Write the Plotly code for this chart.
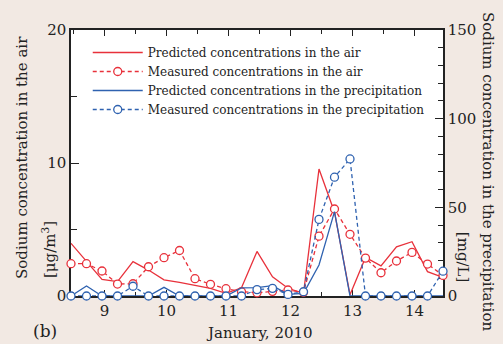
import plotly.graph_objects as go

times = [8.458, 8.708, 8.958, 9.208, 9.458, 9.708, 9.958, 10.208, 10.458, 10.708,
         10.958, 11.208, 11.458, 11.708, 11.958, 12.208, 12.458, 12.708, 12.958,
         13.208, 13.458, 13.708, 13.958, 14.208, 14.458]

air_pred = [3.96, 2.6, 1.25, 1.08, 2.58, 1.95, 1.22, 1.03, 0.83, 0.58, 0.2, 0.62,
            3.35, 1.45, 0.58, 0.2, 9.55, 6.3, 0.1, 2.9, 2.26, 3.7, 4.08, 1.83, 1.4]
air_meas = [2.43, 2.43, 1.88, 0.9, 0.92, 2.2, 2.88, 3.42, 1.3, 0.88, 0.55, 0.32,
            0.24, 0.35, 0.45, 0.28, 4.5, 6.54, 4.64, 2.85, 1.75, 2.63, 3.28, 2.4, 1.55]
prec_pred = [0, 5.6, 0, 0, 0, 0, 4.9, 0, 0, 0, 0, 4.6, 4.7, 5.8, 0.9, 1.5,
             17.5, 47.6, 0, 0, 0, 0, 0, 0, 0]
prec_meas = [0, 0, 0, 0, 5.5, 0, 0, 0, 0, 0, 0, 0, 3.6, 4.3, 0.9, 2.4,
             43.2, 67, 77.3, 0, 0, 0, 0, 0, 14]

x_ticks = [9, 10, 11, 12, 13, 14]
names = ["Predicted concentrations in the air",
         "Measured concentrations in the air",
         "Predicted concentrations in the precipitation",
         "Measured concentrations in the precipitation"]

RED = "#e8313b"
BLUE = "#2f62b0"
INK = "#222222"
FONT = "DejaVu Serif"
DASH = "4px,3px"

fig = go.Figure()
fig.add_trace(go.Scatter(x=times, y=air_pred, mode="lines", name=names[0],
                         line=dict(color=RED, width=1.3), cliponaxis=False))
fig.add_trace(go.Scatter(x=times, y=air_meas, mode="lines+markers", name=names[1],
                         line=dict(color=RED, width=1.3, dash=DASH),
                         marker=dict(symbol="circle", size=8, color="white",
                                     line=dict(color=RED, width=1.3)),
                         cliponaxis=False))
fig.add_trace(go.Scatter(x=times, y=prec_pred, mode="lines", name=names[2],
                         line=dict(color=BLUE, width=1.3), yaxis="y2",
                         cliponaxis=False))
fig.add_trace(go.Scatter(x=times, y=prec_meas, mode="lines+markers", name=names[3],
                         line=dict(color=BLUE, width=1.3, dash=DASH),
                         marker=dict(symbol="circle", size=8, color="white",
                                     line=dict(color=BLUE, width=1.3)),
                         yaxis="y2", cliponaxis=False))

axis_common = dict(showgrid=False, zeroline=False, showline=True, linecolor=INK,
                   linewidth=1.5, ticks="inside", tickcolor=INK, tickwidth=1,
                   tickfont=dict(family=FONT, size=15, color=INK))


def note(text, x, y, angle=0, size=15):
    return dict(text=text, xref="paper", yref="paper", x=x, y=y, textangle=angle,
                xanchor="center", yanchor="middle", showarrow=False,
                font=dict(family=FONT, size=size, color=INK))


fig.update_layout(
    width=503, height=344,
    margin=dict(l=71, r=60, t=30, b=48),
    paper_bgcolor="#f2e9e3", plot_bgcolor="white",
    font=dict(family=FONT, color=INK),
    xaxis=dict(range=[times[0], times[-1]], tickvals=x_ticks, mirror="ticks",
               ticklen=6, minor=dict(dtick=0.5, tick0=0, ticks="inside", ticklen=4,
                                     tickcolor=INK),
               layer="below traces", **axis_common),
    yaxis=dict(range=[0, 20], tickvals=[0, 10, 20], ticklen=8,
               minor=dict(dtick=5, ticks="inside", ticklen=6, tickcolor=INK),
               layer="below traces", **axis_common),
    yaxis2=dict(range=[0, 150], tickvals=[0, 50, 100, 150], overlaying="y",
                side="right", ticklen=8,
                minor=dict(dtick=10, ticks="inside", ticklen=5, tickcolor=INK),
                layer="below traces", **axis_common),
    showlegend=True,
    legend=dict(x=0.045, y=0.97, xanchor="left", yanchor="top",
                bgcolor="rgba(0,0,0,0)", font=dict(family=FONT, size=12, color=INK),
                itemwidth=50, tracegroupgap=0),
    annotations=[
        note("Sodium concentration in the air", -0.1317, 0.519, -90),
        note("[μg/m<sup>3</sup>]", -0.0591, 0.173, -90),
        note("Sodium concentration in the precipitation", 1.121, 0.47, 90),
        note("[mg/L]", 1.054, 0.147, 90),
        note("January, 2010", 0.508, -0.139),
        note("(b)", -0.07, -0.132, 0, 17),
    ],
)

fig.write_html("out.html", config={"displayModeBar": False},
               post_script="document.body.style.margin='0';")
